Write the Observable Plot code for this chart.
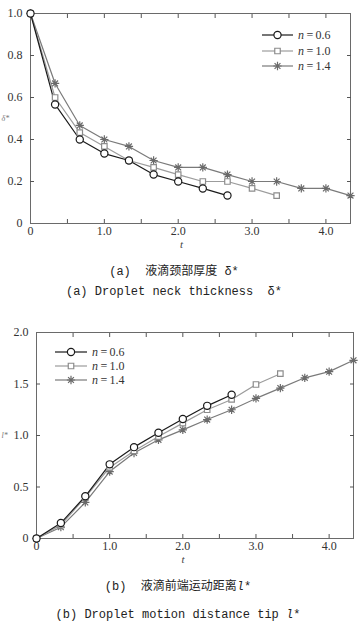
<!DOCTYPE html>
<html><head><meta charset="utf-8">
<script src="https://cdn.jsdelivr.net/npm/d3@7"></script>
<script src="https://cdn.jsdelivr.net/npm/@observablehq/plot@0.6"></script>
<style>
body{margin:0;background:#fff;width:364px;height:636px;overflow:hidden;position:relative;}
.chart{position:absolute;left:0;}
.cap{position:absolute;left:0;width:348px;text-align:center;font-family:"Liberation Mono","Noto Sans CJK SC",monospace;font-size:12px;line-height:20px;color:#222;white-space:pre;}
#legend{position:absolute;left:0;top:0;pointer-events:none;}
</style></head><body>
<div id="c1" class="chart" style="top:0"></div>
<div class="cap" style="top:262px">(a)  液滴颈部厚度 δ*</div>
<div class="cap" style="top:282px">(a) Droplet neck thickness  δ*</div>
<div id="c2" class="chart" style="top:300px"></div>
<div class="cap" style="top:577px;width:356px">(b)  液滴前端运动距离<i>l</i>*</div>
<div class="cap" style="top:605px;width:356px">(b) Droplet motion distance tip <i>l</i>*</div>
<script>
// ---- data ----
const tValues = [0, 0.333, 0.667, 1.0, 1.333, 1.667, 2.0, 2.333, 2.667, 3.0, 3.333, 3.667, 4.0, 4.333];
const seriesNames = ["n=0.6", "n=1.0", "n=1.4"];
const neck06 = [1.0, 0.567, 0.40, 0.333, 0.30, 0.233, 0.20, 0.167, 0.133];
const neck10 = [1.0, 0.60, 0.433, 0.367, 0.30, 0.267, 0.233, 0.20, 0.20, 0.167, 0.133];
const neck14 = [1.0, 0.667, 0.467, 0.40, 0.367, 0.30, 0.267, 0.267, 0.233, 0.20, 0.20, 0.167, 0.167, 0.133];
const tip06 = [0, 0.15, 0.41, 0.72, 0.887, 1.026, 1.16, 1.288, 1.395];
const tip10 = [0, 0.13, 0.40, 0.69, 0.85, 0.99, 1.12, 1.25, 1.35, 1.495, 1.60];
const tip14 = [0, 0.11, 0.35, 0.65, 0.83, 0.958, 1.055, 1.155, 1.25, 1.36, 1.46, 1.56, 1.62, 1.73];
const xMajorTicks = [0, 1, 2, 3, 4];
const xMinorTicks = [0.5, 1, 1.5, 2, 2.5, 3, 3.5, 4];
const neckYTicks = [0, 0.2, 0.4, 0.6, 0.8, 1.0];
const tipYTicks = [0, 0.5, 1.0, 1.5, 2.0];

// ---- styles ----
const star8 = {draw(ctx, size) {
  const r = Math.sqrt(size / Math.PI) * 1.15;
  const d = r * Math.SQRT1_2;
  ctx.moveTo(-r, 0); ctx.lineTo(r, 0);
  ctx.moveTo(0, -r); ctx.lineTo(0, r);
  ctx.moveTo(-d, -d); ctx.lineTo(d, d);
  ctx.moveTo(-d, d); ctx.lineTo(d, -d);
}};
const styles = [
  {line: "#1a1a1a", mark: "#1a1a1a", symbol: "circle", r: 3.6, fill: "white"},
  {line: "#9c9c9c", mark: "#8c8c8c", symbol: "square", r: 3.1, fill: "white"},
  {line: "#7a7a7a", mark: "#6a6a6a", symbol: star8, r: 3.6, fill: "none"}
];
const fmt = d => d === 0 ? "0" : d3.format(".1f")(d);

function rows(vals) { return vals.map((v, i) => ({t: tValues[i], v})); }

function makeChart({series, yDomain, yTicks, yMinor, height, mt, mb, ml, mr, ylab, tdx}) {
  const marks = [
    Plot.frame({stroke: "#6a6a6a"}),
    Plot.axisX(xMajorTicks, {tickSize: 0, tickPadding: 3, tickFormat: fmt, label: null, fontSize: 12}),
    Plot.axisX(xMinorTicks, {tickSize: -4, tickFormat: () => "", label: null, stroke: "#555"}),
    Plot.axisX(xMinorTicks, {anchor: "top", tickSize: -4, tickFormat: () => "", label: null, stroke: "#555"}),
    Plot.axisY(yTicks, {tickSize: 0, tickPadding: 8, tickFormat: fmt, label: null, fontSize: 12}),
    Plot.axisY(yMinor, {tickSize: -4, tickFormat: () => "", label: null, stroke: "#555"}),
    Plot.axisY(yMinor, {anchor: "right", tickSize: -4, tickFormat: () => "", label: null, stroke: "#555"}),
    Plot.text(["t"], {frameAnchor: "bottom", dy: 24, dx: tdx, fontStyle: "italic", fontSize: 11, fill: "#444"}),
    Plot.text([ylab], {frameAnchor: "left", dx: -ml + 1, textAnchor: "start", fontSize: 8, fontStyle: "italic", fill: "#777"})
  ];
  [2, 1, 0].forEach(i => {
    marks.push(Plot.line(rows(series[i]), {x: "t", y: "v", stroke: styles[i].line, strokeWidth: 1.2}));
  });
  [2, 1, 0].forEach(i => {
    const s = styles[i];
    marks.push(Plot.dot(rows(series[i]), {x: "t", y: "v", symbol: s.symbol, r: s.r, stroke: s.mark, fill: s.fill, strokeWidth: 1.2}));
  });
  return Plot.plot({
    width: 364, height, marginTop: mt, marginBottom: mb, marginLeft: ml, marginRight: mr,
    style: {fontFamily: "'Liberation Serif', serif", fontSize: "12px", color: "#333", background: "transparent"},
    x: {domain: [0, 4.333]},
    y: {domain: yDomain},
    marks
  });
}

document.getElementById("c1").append(makeChart({
  series: [neck06, neck10, neck14], yDomain: [0, 1], yTicks: neckYTicks,
  yMinor: [0.2, 0.4, 0.6, 0.8], height: 255, mt: 13, mb: 32, ml: 30, mr: 14, ylab: "δ*", tdx: -9
}));
document.getElementById("c2").append(makeChart({
  series: [tip06, tip10, tip14], yDomain: [0, 2], yTicks: tipYTicks,
  yMinor: [0.5, 1.0, 1.5], height: 275, mt: 32, mb: 37, ml: 36, mr: 11, ylab: "l*", tdx: -12
}));

// ---- legends ----
const svg = d3.select("body").append("svg").attr("id", "legend").attr("width", 364).attr("height", 636);
function legend(x0, x1, ys) {
  ys.forEach((y, i) => {
    const s = styles[i];
    const g = svg.append("g");
    g.append("line").attr("x1", x0).attr("x2", x1).attr("y1", y).attr("y2", y)
      .attr("stroke", s.line).attr("stroke-width", 1.2);
    g.append("path").attr("transform", `translate(${(x0 + x1) / 2},${y})`)
      .attr("d", d3.symbol(s.symbol === "circle" ? d3.symbolCircle : s.symbol === "square" ? d3.symbolSquare : s.symbol, Math.PI * s.r * s.r)())
      .attr("fill", s.fill).attr("stroke", s.mark).attr("stroke-width", 1.2);
    const t = g.append("text").attr("x", x1 + 5).attr("y", y).attr("dy", "0.35em")
      .attr("font-family", "'Liberation Serif', serif").attr("font-size", 12).attr("fill", "#333");
    const [n, v] = seriesNames[i].split("=");
    t.append("tspan").attr("font-style", "italic").text(n);
    t.append("tspan").text("\u2009=\u2009" + v);
  });
}
legend(262, 293, [35, 51, 66]);
legend(55, 87, [352, 366, 380]);
</script>
</body></html>
